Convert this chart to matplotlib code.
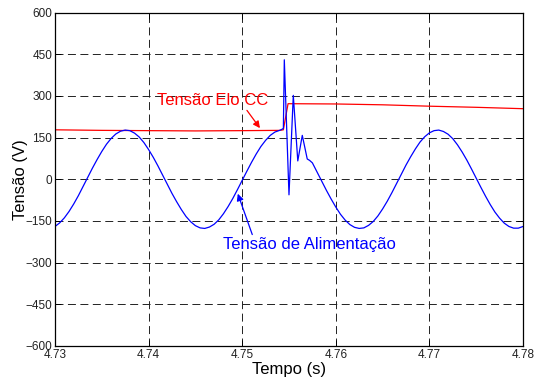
import matplotlib
matplotlib.use('Agg')
import matplotlib.pyplot as plt

# tensao de alimentacao (azul), antes do transitorio
t_ali_a = [4.7300, 4.7305, 4.7310, 4.7315, 4.7320, 4.7325, 4.7330, 4.7335, 4.7340, 4.7345,
           4.7350, 4.7355, 4.7360, 4.7365, 4.7370, 4.7375, 4.7380, 4.7385, 4.7390, 4.7395,
           4.7400, 4.7405, 4.7410, 4.7415, 4.7420, 4.7425, 4.7430, 4.7435, 4.7440, 4.7445,
           4.7450, 4.7455, 4.7460, 4.7465, 4.7470, 4.7475, 4.7480, 4.7485, 4.7490, 4.7495,
           4.7500, 4.7505, 4.7510, 4.7515, 4.7520, 4.7525, 4.7530, 4.7535, 4.7540]
v_ali_a = [-170, -157, -139, -116, -89, -59, -26, 7, 40, 71,
           100, 126, 147, 163, 173, 177, 175, 166, 152, 132,
           107, 79, 48, 15, -18, -51, -81, -109, -134, -153,
           -167, -175, -177, -172, -162, -146, -124, -98, -69, -37,
           -4, 29, 61, 91, 118, 140, 158, 170, 176]

# transitorio
t_ali_b = [4.75420, 4.75440, 4.75450, 4.75500, 4.75546, 4.75594, 4.75642, 4.75695, 4.75720]
v_ali_b = [179, 183, 430, -56, 302, 66, 158, 73, 68]

# depois do transitorio
t_ali_c = [4.7575, 4.7580, 4.7585, 4.7590, 4.7595, 4.7600, 4.7605, 4.7610, 4.7615, 4.7620,
           4.7625, 4.7630, 4.7635, 4.7640, 4.7645, 4.7650, 4.7655, 4.7660, 4.7665, 4.7670,
           4.7675, 4.7680, 4.7685, 4.7690, 4.7695, 4.7700, 4.7705, 4.7710, 4.7715, 4.7720,
           4.7725, 4.7730, 4.7735, 4.7740, 4.7745, 4.7750, 4.7755, 4.7760, 4.7765, 4.7770,
           4.7775, 4.7780, 4.7785, 4.7790, 4.7795, 4.7800]
v_ali_c = [59, 26, -7, -40, -71, -100, -126, -147, -163, -173,
           -177, -175, -166, -152, -132, -107, -79, -48, -15, 18,
           51, 81, 109, 134, 153, 167, 175, 177, 172, 162,
           146, 124, 98, 69, 37, 4, -29, -61, -91, -118,
           -140, -158, -170, -176, -176, -170]

t_ali = t_ali_a + t_ali_b + t_ali_c
v_ali = v_ali_a + v_ali_b + v_ali_c

# tensao do elo CC (vermelho)
t_elo = [4.7300, 4.7350, 4.7400, 4.7450, 4.7500, 4.7540, 4.7544, 4.7549,
         4.7600, 4.7650, 4.7700, 4.7750, 4.7800]
v_elo = [178, 176, 175, 174, 175, 176, 178, 272,
         271, 268, 263, 259, 254]

yticks = [-600, -450, -300, -150, 0, 150, 300, 450, 600]
xticks = [4.73, 4.74, 4.75, 4.76, 4.77, 4.78]

plt.rcParams['font.family'] = ['Liberation Sans', 'DejaVu Sans']

fig = plt.figure(figsize=(5.38, 3.81), dpi=100)
ax = fig.add_axes([0.1022, 0.092, 0.8699, 0.875])

ax.plot(t_elo, v_elo, color='#ff0000', lw=0.9)
ax.plot(t_ali, v_ali, color='#0000ff', lw=0.9)

ax.set_xlim(4.73, 4.78)
ax.set_ylim(-600, 600)
ax.set_xticks(xticks)
ax.set_yticks(yticks)
ax.set_xticklabels(['%.2f' % x for x in xticks])
ax.tick_params(direction='in', top=True, right=True, length=4, width=0.7,
               labelsize=8.5, pad=2, labelcolor='#222222')
ax.grid(True, color='#222222', linestyle=(0, (8.2, 4.6)), linewidth=0.7)
for s in ax.spines.values():
    s.set_linewidth(0.9)

ax.set_xlabel('Tempo (s)', fontsize=12, labelpad=1)
ax.set_ylabel('Tensão (V)', fontsize=12)
ax.yaxis.set_label_coords(-0.058, 0.5)

ax.annotate('Tensão Elo CC', xy=(4.75190, 184), xytext=(4.7409, 285),
            color='#ff0000', fontsize=12, va='center', ha='left',
            arrowprops=dict(arrowstyle='-|>', color='#ff0000', lw=0.9,
                            mutation_scale=10, shrinkA=0, shrinkB=0,
                            relpos=(0.79, 0.0)))
ax.annotate('Tensão de Alimentação', xy=(4.74953, -52), xytext=(4.74795, -236),
            color='#0000ff', fontsize=12, va='center', ha='left',
            arrowprops=dict(arrowstyle='-|>', color='#0000ff', lw=0.9,
                            mutation_scale=10, shrinkA=0, shrinkB=0,
                            relpos=(0.175, 1.0)))

fig.savefig('out.png', dpi=100)
